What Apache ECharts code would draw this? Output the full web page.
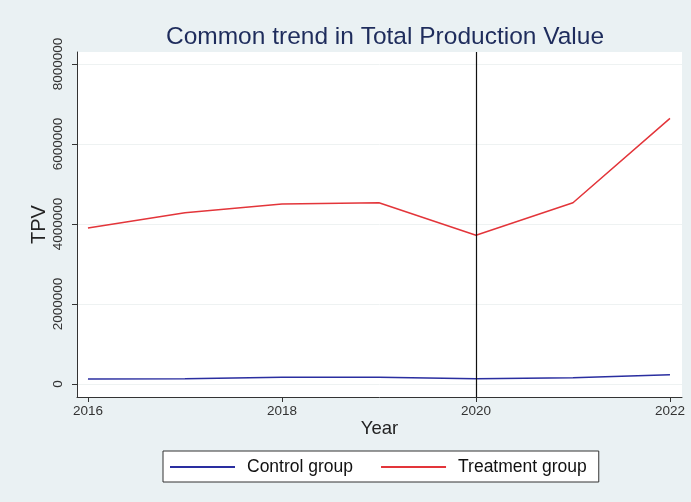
<!DOCTYPE html>
<html><head><meta charset="utf-8">
<script src="https://cdn.jsdelivr.net/npm/echarts@6/dist/echarts.min.js"></script>
<style>html,body{margin:0;padding:0;background:#eaf1f3}#c{width:691px;height:502px}</style>
</head><body><div id="c"></div>
<script>
const years = [2016, 2017, 2018, 2019, 2020, 2021, 2022];
const controlGroup = [125000, 130000, 167000, 167000, 133000, 158000, 233000];
const treatmentGroup = [3900000, 4280000, 4500000, 4530000, 3720000, 4530000, 6640000];
const yTicks = [0, 2000000, 4000000, 6000000, 8000000];
const xTicks = [2016, 2018, 2020, 2022];
const eventYear = 2020;

const chart = echarts.init(document.getElementById('c'), null, {renderer: 'canvas'});
const font = 'Liberation Sans, Arial, sans-serif';
chart.setOption({
  backgroundColor: '#eaf1f3',
  animation: false,
  title: {
    text: 'Common trend in Total Production Value',
    left: 380, top: 20, textAlign: 'center',
    textStyle: {fontFamily: font, fontSize: 24.5, fontWeight: 'normal', color: '#1e2c5c'}
  },
  grid: {left: 77, right: 9, top: 52, bottom: 105, show: true, backgroundColor: '#ffffff', borderWidth: 0},
  xAxis: {
    type: 'value', min: 2015.887, max: 2022.124,
    name: 'Year', nameLocation: 'middle', nameGap: 22, nameMoveOverlap: false,
    nameTextStyle: {fontFamily: font, fontSize: 18.5, color: '#222'},
    axisLine: {show: true, onZero: false, lineStyle: {color: '#333', width: 1}},
    axisTick: {show: true, length: 5, customValues: xTicks, lineStyle: {color: '#333'}},
    axisLabel: {customValues: xTicks, margin: 7, fontFamily: font, fontSize: 13.5, color: '#333',
      formatter: v => String(v)},
    splitLine: {show: false}
  },
  yAxis: {
    type: 'value', min: -325000, max: 8300000,
    name: 'TPV', nameLocation: 'middle', nameGap: 28, nameMoveOverlap: false,
    nameTextStyle: {fontFamily: font, fontSize: 20, color: '#222'},
    axisLine: {show: true, onZero: false, lineStyle: {color: '#333', width: 1}},
    axisTick: {show: true, length: 5, customValues: yTicks, lineStyle: {color: '#333'}},
    axisLabel: {customValues: yTicks, rotate: 90, margin: 12, fontFamily: font, fontSize: 13.5, color: '#333',
      formatter: v => String(v)},
    splitLine: {show: true, lineStyle: {color: '#eef2f2', width: 1}}
  },
  legend: {
    left: 163, top: 451,
    backgroundColor: '#ffffff', borderColor: '#333', borderWidth: 1,
    padding: [7, 12, 6, 7], itemGap: 28,
    itemWidth: 65, itemHeight: 2, icon: 'rect',
    textStyle: {fontFamily: font, fontSize: 17.5, color: '#111', padding: [0, 0, 0, 7]},
    data: ['Control group', 'Treatment group']
  },
  series: [
    {
      name: 'Control group', type: 'line', showSymbol: false,
      data: years.map((y, i) => [y, controlGroup[i]]),
      lineStyle: {color: '#2a2ea0', width: 1.5}, itemStyle: {color: '#2a2ea0'},
      markLine: {
        silent: true, symbol: 'none', label: {show: false},
        lineStyle: {color: '#111', width: 1.2, type: 'solid'},
        data: [{xAxis: eventYear}]
      }
    },
    {
      name: 'Treatment group', type: 'line', showSymbol: false,
      data: years.map((y, i) => [y, treatmentGroup[i]]),
      lineStyle: {color: '#e3353a', width: 1.5}, itemStyle: {color: '#e3353a'}
    }
  ]
});
</script></body></html>
